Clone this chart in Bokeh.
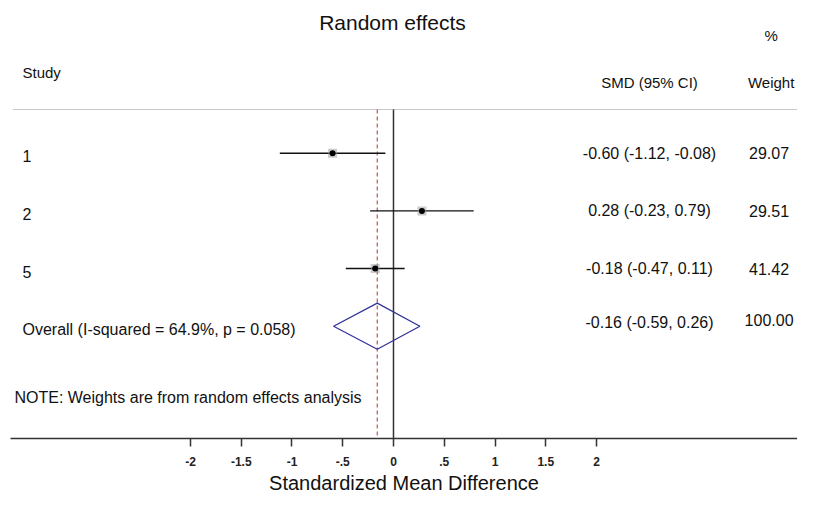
from bokeh.plotting import figure
from bokeh.models import Range1d, FixedTicker, ColumnDataSource
from bokeh.core.properties import value
from bokeh.embed import file_html
from bokeh.resources import INLINE

# ---- data ----
studies = ["1", "2", "5"]
smd = [-0.60, 0.28, -0.18]
ci_lo = [-1.12, -0.23, -0.47]
ci_hi = [-0.08, 0.79, 0.11]
weights = [29.07, 29.51, 41.42]
overall_smd = -0.16
overall_lo = -0.59
overall_hi = 0.26
overall_weight = 100.00
i_squared = 64.9
p_value = 0.058
tick_values = [-2, -1.5, -1, -0.5, 0, 0.5, 1, 1.5, 2]
tick_labels = ["-2", "-1.5", "-1", "-.5", "0", ".5", "1", "1.5", "2"]

FONT = "Liberation Sans"
rows = list(range(1, len(studies) + 1))
overall_row = len(studies) + 1

p = figure(width=797, height=496, output_backend="svg", toolbar_location=None,
           x_range=Range1d(-3.773, 3.980), y_range=Range1d(5.947, -1.648),
           min_border_left=10, min_border_right=0, min_border_top=0, min_border_bottom=58)
p.outline_line_color = None
p.grid.visible = False
p.yaxis.visible = False
p.background_fill_color = "white"

ax = p.xaxis[0]
ax.ticker = FixedTicker(ticks=tick_values)
ax.major_label_overrides = {v: l for v, l in zip(tick_values, tick_labels)}
ax.minor_tick_line_color = None
ax.major_tick_in = 0
ax.major_tick_out = 8
ax.major_tick_line_color = "#333333"
ax.major_tick_line_width = 1.5
ax.axis_line_color = "#333333"
ax.axis_line_width = 1.5
ax.major_label_text_font = FONT
ax.major_label_text_font_style = "bold"
ax.major_label_text_font_size = "12px"
ax.major_label_text_color = "#222222"
ax.major_label_standoff = 10
ax.axis_label = "Standardized Mean Difference"
ax.axis_label_text_font = FONT
ax.axis_label_text_font_style = "normal"
ax.axis_label_text_font_size = "20px"
ax.axis_label_text_color = "#111111"
ax.axis_label_standoff = 3

top_y = 0.242
bottom_y = 5.947

# header separator
p.segment(x0=-3.75, x1=4.1, y0=top_y, y1=top_y, line_color="#c8c8c8", line_width=1.2)
# null line
p.segment(x0=0, x1=0, y0=top_y, y1=bottom_y, line_color="#333333", line_width=1.5)
# overall dashed line
p.segment(x0=overall_smd, x1=overall_smd, y0=top_y, y1=bottom_y,
          line_color="#c8504f", line_width=1.2, line_dash="4 3")

src = ColumnDataSource(dict(y=rows, smd=smd, lo=ci_lo, hi=ci_hi, study=studies,
                            w=[f"{w:.2f}" for w in weights],
                            ci=[f"{s:.2f} ({l:.2f}, {h:.2f})" for s, l, h in zip(smd, ci_lo, ci_hi)]))
p.segment(x0="lo", x1="hi", y0="y", y1="y", source=src, line_color="#111111", line_width=1.4)
p.scatter(x="smd", y="y", source=src, marker="square", size=9, fill_color="#9a9a9a",
          fill_alpha=0.5, line_color=None)
p.scatter(x="smd", y="y", source=src, marker="circle", size=6, fill_color="black", line_color=None)

# diamond
dh = 0.4
p.patch(x=[overall_lo, overall_smd, overall_hi, overall_smd],
        y=[overall_row, overall_row - dh, overall_row, overall_row + dh],
        fill_color=None, line_color="#33339a", line_width=1.3)

def txt(x, y, t, size="16px", align="left", color="#111111"):
    p.text(x=[x], y=[y], text=[t], text_font=value(FONT), text_font_size=size,
           text_align=align, text_baseline="middle", text_color=color)

# titles / headers
txt(-0.01, -1.266, "Random effects", size="21px", align="center")
txt(-3.655, -0.399, "Study", size="15px")
txt(2.522, -0.226, "SMD (95% CI)", size="15px", align="center")
txt(3.72, -0.226, "Weight", size="15px", align="center")
txt(3.72, -1.041, "%", size="15px", align="center")

# row labels
p.text(x=-3.655, y="y", text="study", source=src, text_font=value(FONT), text_font_size="16px",
       text_baseline="middle", text_color="#111111", y_offset=3)
p.text(x=2.522, y="y", text="ci", source=src, text_font=value(FONT), text_font_size="16px",
       text_baseline="middle", text_align="center", text_color="#111111")
p.text(x=3.70, y="y", text="w", source=src, text_font=value(FONT), text_font_size="16px",
       text_baseline="middle", text_align="center", text_color="#111111")

txt(-3.655, overall_row + 0.06, f"Overall (I-squared = {i_squared:.1f}%, p = {p_value:.3f})")
txt(2.522, overall_row - 0.06, f"{overall_smd:.2f} ({overall_lo:.2f}, {overall_hi:.2f})", align="center")
txt(3.70, overall_row - 0.11, f"{overall_weight:.2f}", align="center")
txt(-3.734, 5.236, "NOTE: Weights are from random effects analysis")

open("out.html", "w").write(file_html(p, INLINE))
